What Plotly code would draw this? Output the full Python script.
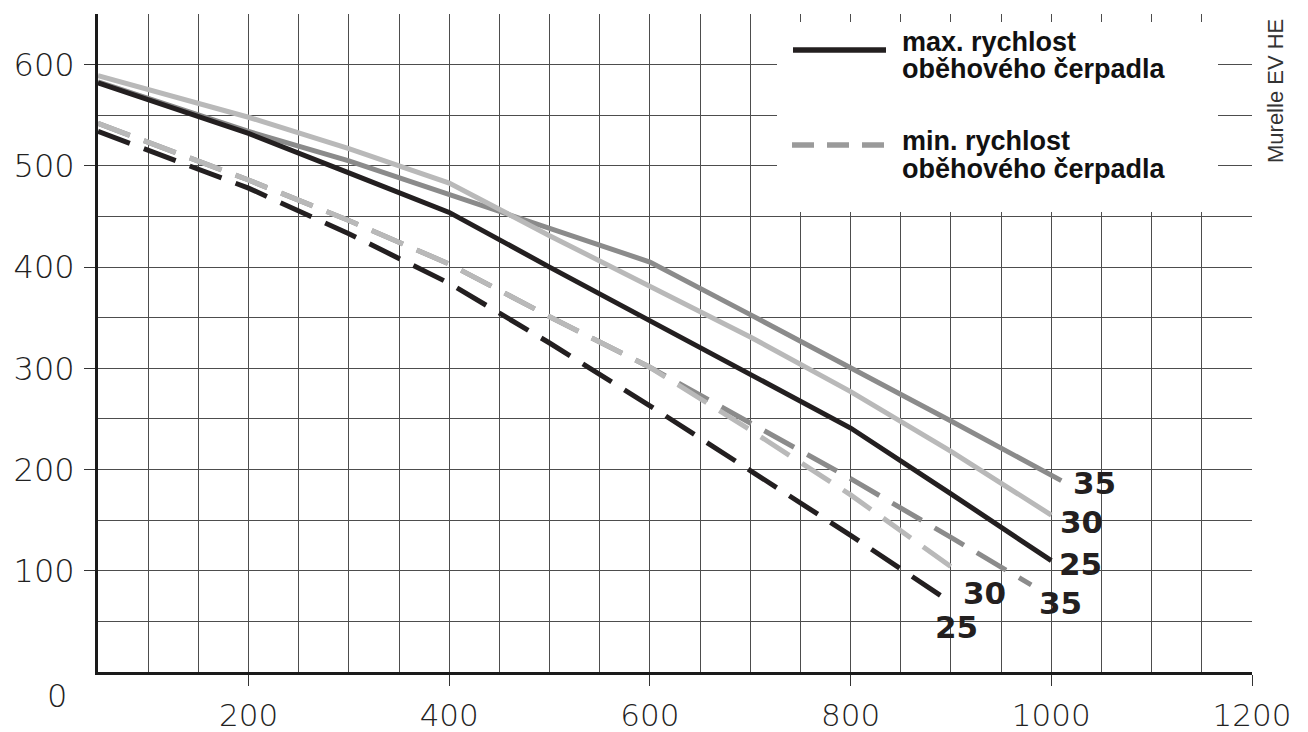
import plotly.graph_objects as go

# ---------------- data ----------------
x_max25 = [50, 200, 300, 400, 500, 600, 700, 800, 900, 1000]
y_max25 = [582, 532, 493, 454, 400, 347, 295, 241, 176, 110]

x_max30 = [50, 200, 300, 400, 500, 600, 700, 800, 900, 1000]
y_max30 = [589, 548, 517, 483, 431, 381, 331, 277, 218, 155]

x_max35 = [50, 200, 300, 400, 500, 600, 700, 800, 900, 1010]
y_max35 = [583, 534, 505, 472, 438, 405, 353, 301, 248, 189]

x_min25 = [50, 200, 300, 400, 500, 600, 700, 800, 898]
y_min25 = [534, 478, 433, 384, 325, 263, 199, 135, 70]

x_min30 = [50, 200, 300, 400, 500, 600, 700, 800, 910]
y_min30 = [542, 486, 446, 403, 351, 301, 239, 175, 97]

x_min35 = [50, 200, 300, 400, 500, 600, 700, 800, 900, 980]
y_min35 = [542, 486, 446, 403, 351, 301, 246, 191, 133, 86]

x_ticks = [200, 400, 600, 800, 1000, 1200]
y_ticks = [100, 200, 300, 400, 500, 600]

legend_max = ["max. rychlost", "oběhového čerpadla"]
legend_min = ["min. rychlost", "oběhového čerpadla"]
side_title = "Murelle EV HE"

# ---------------- styles ----------------
BLACK = "#231f20"
GRAY = "#8b8b8b"
LIGHT = "#b9b9b9"
GRID = "#4d4d4d"
LW = 5
DASH = "34px,15px"

# page has an 8px body margin; size the figure so the plot area lands where
# the reference has it (page pixels: x 98..1252, y 14..672)
OFF = 8
W, H = 1300, 724
ML, MT = 90, 6
PW, PH = 1154, 658
MR, MB = W - ML - PW, H - MT - PH


def px(xp):
    return (xp - OFF - ML) / PW


def py(yp):
    return (OFF + MT + PH - yp) / PH


fig = go.Figure()

series = [
    (x_min35, y_min35, GRAY, DASH, "35"),
    (x_min30, y_min30, LIGHT, DASH, "30"),
    (x_min25, y_min25, BLACK, DASH, "25"),
    (x_max35, y_max35, GRAY, "solid", "35"),
    (x_max30, y_max30, LIGHT, "solid", "30"),
    (x_max25, y_max25, BLACK, "solid", "25"),
]
for xs, ys, col, dash, name in series:
    fig.add_trace(go.Scatter(
        x=xs, y=ys, mode="lines", name=name, showlegend=False,
        line=dict(color=col, width=LW, dash=dash), hoverinfo="skip",
    ))

# curve-end labels: (series x, series y, xshift, yshift, text)
end_labels = [
    (x_max35, y_max35, 33, -2, "35"),
    (x_max30, y_max30, 30, -7, "30"),
    (x_max25, y_max25, 29, -3, "25"),
    (x_min30, y_min30, 24, -19, "30"),
    (x_min35, y_min35, 29, -18, "35"),
    (x_min25, y_min25, 8, -26, "25"),
]
for xs, ys, dx, dy, txt in end_labels:
    fig.add_annotation(
        x=xs[-1], y=ys[-1], xref="x", yref="y", text=txt, showarrow=False,
        xshift=dx, yshift=dy, xanchor="center", yanchor="middle",
        font=dict(family="DejaVu Sans", size=31, color=BLACK, weight="bold"),
    )

# white legend box over the grid
fig.add_shape(type="rect", xref="paper", yref="paper",
              x0=px(777), x1=px(1218), y0=py(212), y1=py(22),
              fillcolor="white", line=dict(width=0), layer="above")
# legend line samples
fig.add_shape(type="line", xref="paper", yref="paper",
              x0=px(793), x1=px(886), y0=py(50), y1=py(50),
              line=dict(color=BLACK, width=5.5), layer="above")
fig.add_shape(type="line", xref="paper", yref="paper",
              x0=px(792), x1=px(884), y0=py(145), y1=py(145),
              line=dict(color="#9a9a9a", width=5.5, dash="22px,13px"), layer="above")

leg_font = dict(family="Liberation Sans, Arial", size=27, color="#111111", weight="bold")
for txt, yc in zip(legend_max + legend_min, [42, 69, 141, 169]):
    fig.add_annotation(x=px(901), y=py(yc), xref="paper", yref="paper", text=txt,
                       showarrow=False, xanchor="left", yanchor="middle",
                       borderpad=0, font=leg_font)

# rotated side title
fig.add_annotation(x=px(1275), y=py(91), xref="paper", yref="paper", text=side_title,
                   textangle=-90, showarrow=False, xanchor="center", yanchor="middle",
                   font=dict(family="Liberation Sans, Arial", size=22, color="#333333"))

tick_font = dict(family="DejaVu Sans", size=32, color="#222222", weight=300)

# the lone "0" label sitting below-left of the origin
fig.add_annotation(x=px(57), y=py(696), xref="paper", yref="paper", text="0",
                   showarrow=False, xanchor="center", yanchor="middle", font=tick_font)

axis_common = dict(
    showgrid=True, gridcolor=GRID, gridwidth=1.3,
    showline=True, linecolor="#1a1a1a", linewidth=3,
    ticks="outside", ticklen=11, tickwidth=1.3, tickcolor="#333333",
    zeroline=False,
    minor=dict(dtick=50, tick0=0, showgrid=True, gridcolor=GRID, gridwidth=1.3, ticks=""),
)

fig.update_xaxes(range=[50, 1200], tickmode="array", tickvals=x_ticks,
                 ticktext=[str(v) for v in x_ticks], ticklabelstandoff=3,
                 tickfont=dict(tick_font, size=31), **axis_common)
fig.update_yaxes(range=[0, 650], tickmode="array", tickvals=y_ticks,
                 ticktext=[str(v) for v in y_ticks], ticklabelstandoff=3,
                 tickfont=tick_font, **axis_common)

fig.update_layout(
    width=W, height=H,
    margin=dict(l=ML, r=MR, t=MT, b=MB, autoexpand=False),
    paper_bgcolor="white", plot_bgcolor="white",
    showlegend=False,
)

fig.write_html("out.html")
